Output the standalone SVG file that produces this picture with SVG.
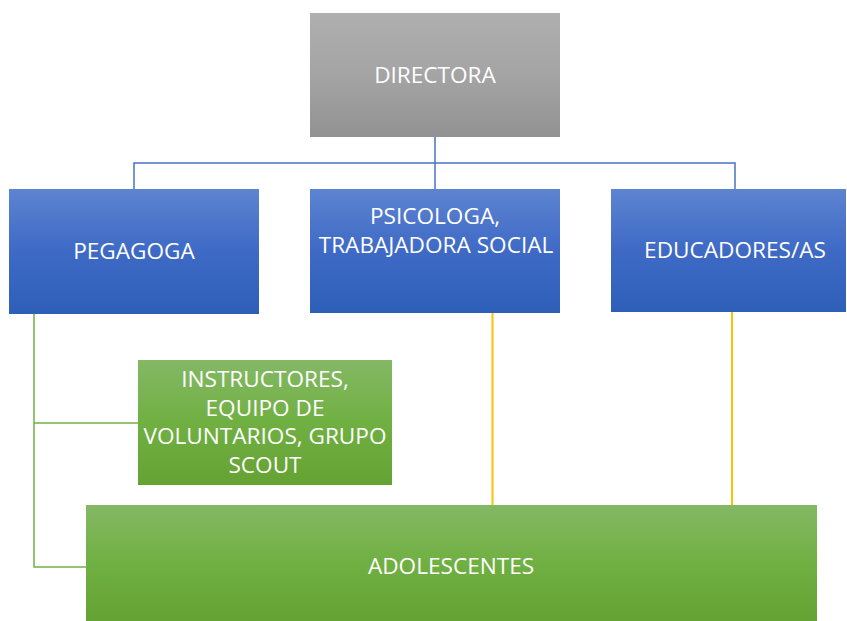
<svg xmlns="http://www.w3.org/2000/svg" width="847" height="621" viewBox="0 0 847 621">
<defs>
<linearGradient id="gGrey" x1="0" y1="0" x2="0" y2="1">
<stop offset="0" stop-color="#afafaf"/><stop offset="0.5" stop-color="#a4a4a4"/><stop offset="1" stop-color="#929292"/>
</linearGradient>
<linearGradient id="gBlue" x1="0" y1="0" x2="0" y2="1">
<stop offset="0" stop-color="#5d84d0"/><stop offset="0.5" stop-color="#3e6ac6"/><stop offset="1" stop-color="#2e5fb7"/>
</linearGradient>
<linearGradient id="gGreen" x1="0" y1="0" x2="0" y2="1">
<stop offset="0" stop-color="#84b865"/><stop offset="0.5" stop-color="#70b042"/><stop offset="1" stop-color="#64a233"/>
</linearGradient>
</defs>
<style>
.t{font-family:"Open Sans","Liberation Sans",sans-serif;font-size:22.6px;fill:#ffffff;text-anchor:middle}
.blue{stroke:#4a72c4;stroke-width:1.5;fill:none}
.green{stroke:#72b046;stroke-width:1.5;fill:none}
.yellow{stroke:#ffc000;stroke-width:2;fill:none}
</style>
<g id="connectors">
<path class="blue" d="M435 137V189M134 189V163H735V189"/>
<path class="green" d="M34 314V567H86M34 423H138"/>
<path class="yellow" d="M492.5 309V505M732 309V505"/>
</g>
<g id="directora">
<rect x="310" y="13" width="250" height="124" fill="url(#gGrey)"/>
<text class="t" x="435" y="83">DIRECTORA</text>
</g>
<g id="pegagoga">
<rect x="9" y="189" width="250" height="125" fill="url(#gBlue)"/>
<text class="t" x="134" y="259">PEGAGOGA</text>
</g>
<g id="psicologa">
<rect x="310" y="189" width="250" height="124" fill="url(#gBlue)"/>
<text class="t" x="435" y="224">PSICOLOGA,</text>
<text class="t" x="436" y="253">TRABAJADORA SOCIAL</text>
</g>
<g id="educadores">
<rect x="611" y="189" width="235" height="123" fill="url(#gBlue)"/>
<text class="t" x="735" y="258">EDUCADORES/AS</text>
</g>
<g id="instructores">
<rect x="138" y="360" width="254" height="125" fill="url(#gGreen)"/>
<text class="t" x="265" y="387">INSTRUCTORES,</text>
<text class="t" x="265" y="416">EQUIPO DE</text>
<text class="t" x="265" y="444">VOLUNTARIOS, GRUPO</text>
<text class="t" x="265" y="473">SCOUT</text>
</g>
<g id="adolescentes">
<rect x="86" y="505" width="731" height="116" fill="url(#gGreen)"/>
<text class="t" x="451" y="574">ADOLESCENTES</text>
</g>
</svg>
